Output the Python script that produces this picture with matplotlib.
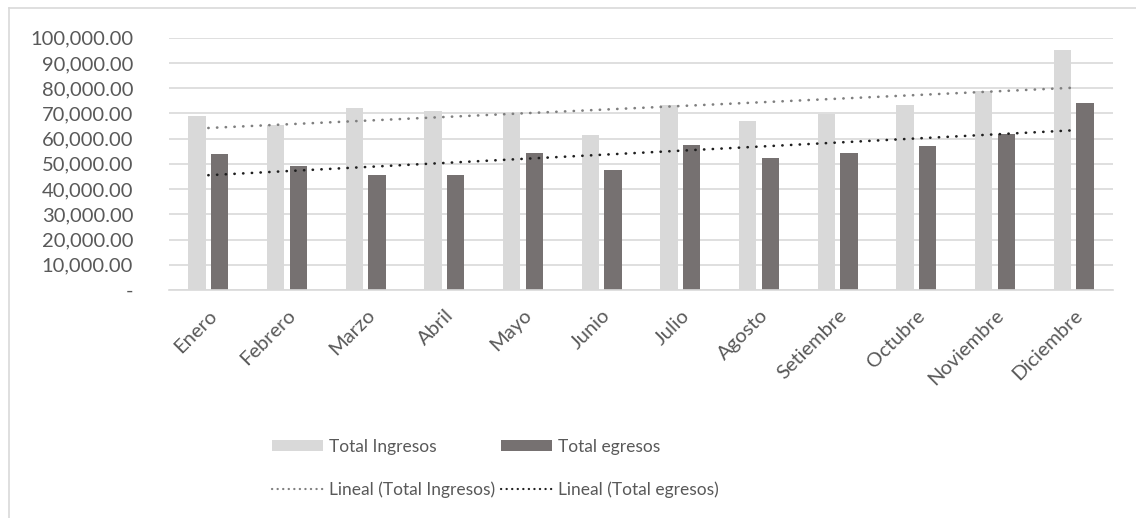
import numpy as np
import matplotlib
matplotlib.use("Agg")
import matplotlib.pyplot as plt
from matplotlib.lines import Line2D
from matplotlib.patches import Patch
from matplotlib.ticker import FuncFormatter

meses = ["Enero", "Febrero", "Marzo", "Abril", "Mayo", "Junio", "Julio",
         "Agosto", "Setiembre", "Octubre", "Noviembre", "Diciembre"]
total_ingresos = [68960, 65260, 72260, 70800, 70280, 61430,
                  73320, 66970, 69620, 73320, 79000, 95110]
total_egresos = [54030, 49140, 45570, 45570, 54160, 47560,
                 57330, 52180, 54290, 57070, 61960, 73980]
y_ticks = [0, 10000, 20000, 30000, 40000, 50000, 60000, 70000, 80000, 90000, 100000]

plt.rcParams["font.family"] = ["Lato", "DejaVu Sans"]
TXT = "#595959"
GRID = "#d9d9d9"
C_ING = "#d9d9d9"
C_EGR = "#767171"
C_TR_ING = "#7f7f7f"
C_TR_EGR = "#1f1f1f"

fig = plt.figure(figsize=(11.36, 5.18), dpi=100)
ax = fig.add_axes([169 / 1136, 1 - 290 / 518, 944 / 1136, (290 - 37.7) / 518])

x = np.arange(len(meses))
w = 0.22
off = 0.143
ax.bar(x - off, total_ingresos, width=w, color=C_ING, zorder=2)
ax.bar(x + off, total_egresos, width=w, color=C_EGR, zorder=2)

# linear trend lines (least squares on month index)
dot = (0, (0.1, 3.2))
for vals, col in ((total_ingresos, C_TR_ING), (total_egresos, C_TR_EGR)):
    k, b = np.polyfit(x, vals, 1)
    ax.plot(x, k * x + b, color=col, lw=1.9, linestyle=dot,
            dash_capstyle="round", zorder=3)

ax.set_xlim(-0.5, len(meses) - 0.5)
ax.set_ylim(0, 100000)
ax.set_yticks(y_ticks)
ax.yaxis.set_major_formatter(FuncFormatter(
    lambda v, p: "-" if v == 0 else f"{v:,.2f}"))
ax.grid(axis="y", color=GRID, lw=1.2, zorder=0)
ax.set_axisbelow(True)
for s in ("top", "right", "left"):
    ax.spines[s].set_visible(False)
ax.spines["bottom"].set_color(GRID)
ax.spines["bottom"].set_linewidth(1.2)
ax.tick_params(axis="both", length=0, colors=TXT, labelsize=14.5)
ax.tick_params(axis="y", pad=25.8)
ax.set_xticks(x)
ax.set_xticklabels(meses, rotation=45, ha="right", rotation_mode="anchor")
ax.tick_params(axis="x", pad=12)

handles = [
    Patch(facecolor=C_ING, edgecolor="none", label="Total Ingresos"),
    Line2D([], [], color=C_TR_ING, lw=1.6, linestyle=(0, (0.1, 2.4)),
           dash_capstyle="round", label="Lineal (Total Ingresos)"),
    Patch(facecolor=C_EGR, edgecolor="none", label="Total egresos"),
    Line2D([], [], color=C_TR_EGR, lw=1.6, linestyle=(0, (0.1, 2.4)),
           dash_capstyle="round", label="Lineal (Total egresos)"),
]
leg = fig.legend(handles=handles, ncol=2, frameon=False, fontsize=12.5,
                 loc="upper left", bbox_to_anchor=(263 / 1136, 1 - 430 / 518),
                 handlelength=2.95, handleheight=0.65, handletextpad=0.35,
                 columnspacing=0.35, labelspacing=1.55, borderpad=0)
for t in leg.get_texts():
    t.set_color(TXT)

# chart area border (top and left edges visible)
fig.add_artist(Line2D([9 / 1136, 1], [1 - 8 / 518, 1 - 8 / 518],
                      transform=fig.transFigure, color="#d9d9d9", lw=1.2))
fig.add_artist(Line2D([9 / 1136, 9 / 1136], [0, 1 - 8 / 518],
                      transform=fig.transFigure, color="#d9d9d9", lw=1.2))

fig.savefig("out.png", dpi=100, facecolor="white")
